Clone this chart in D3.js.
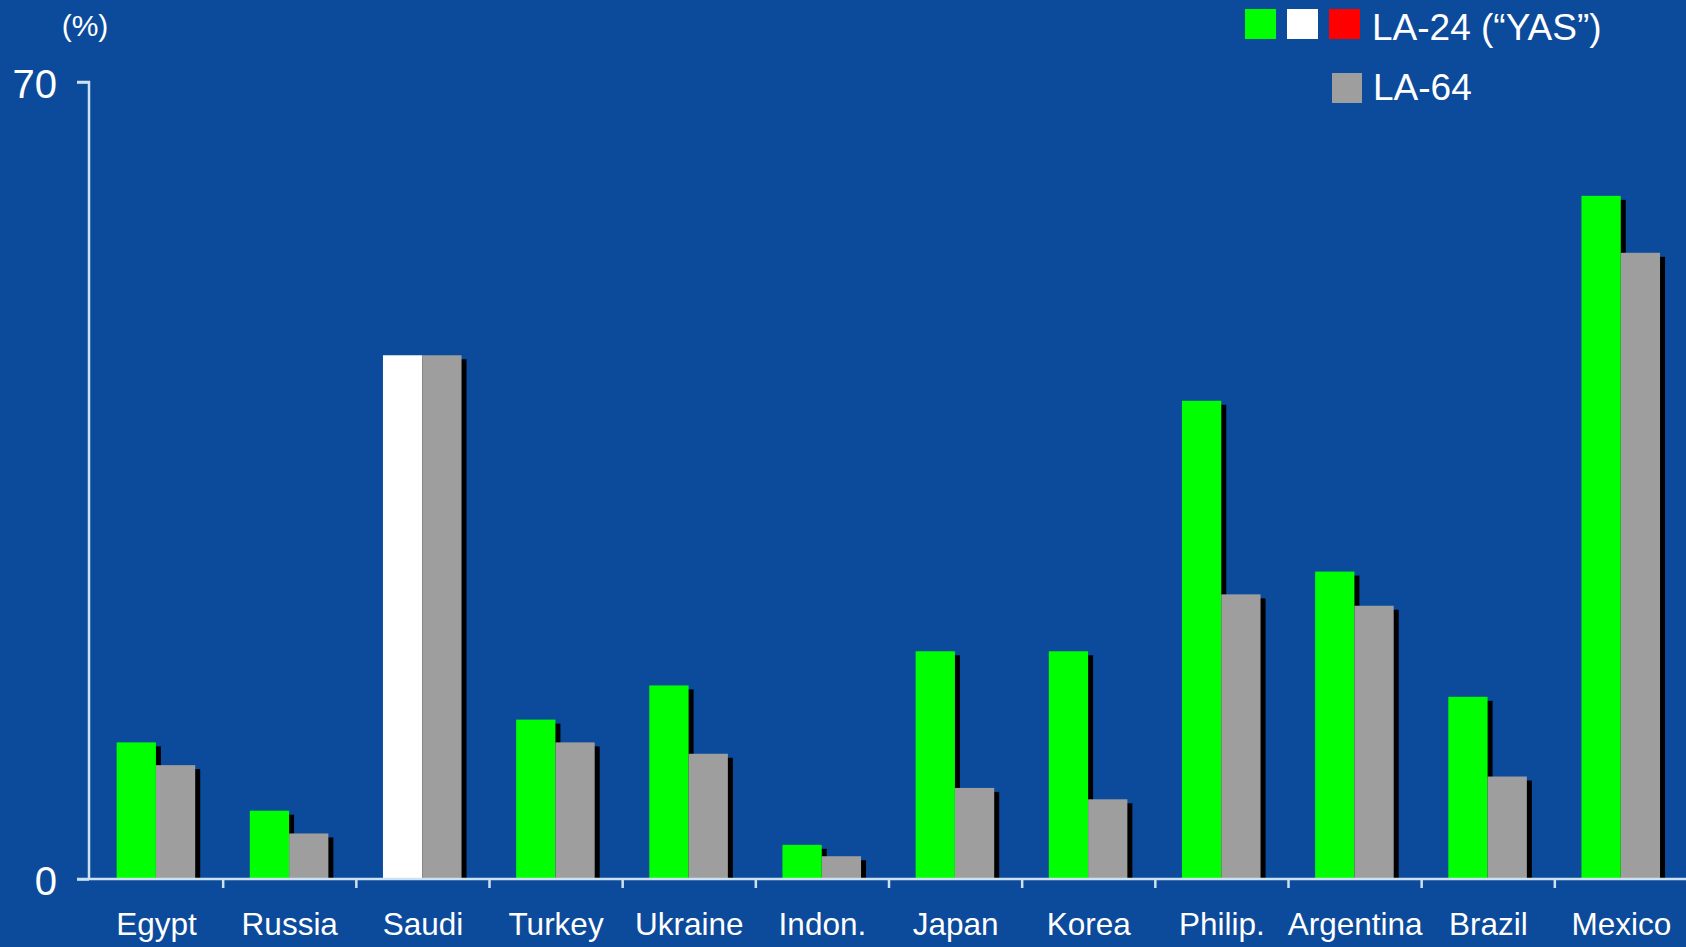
<!DOCTYPE html>
<html>
<head>
<meta charset="utf-8">
<script src="https://cdn.jsdelivr.net/npm/d3@7"></script>
<style>
  html, body { margin: 0; padding: 0; background: #0c4a9b; }
  svg { display: block; }
  text { font-family: "Liberation Sans", Arial, Helvetica, sans-serif; fill: #ffffff; }
</style>
</head>
<body>
<script>
// Share of each country (%), two measures per country
const countries = ["Egypt", "Russia", "Saudi", "Turkey", "Ukraine", "Indon.", "Japan", "Korea", "Philip.", "Argentina", "Brazil", "Mexico"];
const la24 = [12, 6, 46, 14, 17, 3, 20, 20, 42, 27, 16, 60];
const la64 = [10, 4, 46, 12, 11, 2, 8, 7, 25, 24, 9, 55];
// LA-24 bar colour per country (Saudi shown in white)
const la24Colors = ["#00ff00", "#00ff00", "#ffffff", "#00ff00", "#00ff00", "#00ff00", "#00ff00", "#00ff00", "#00ff00", "#00ff00", "#00ff00", "#00ff00"];
const seriesNames = ["LA-24", "LA-64"];
const yTicks = [0, 70];
const legendSwatches = ["#00ff00", "#ffffff", "#ff0000"];

const W = 1686, H = 947;
const BG = "#0c4a9b", AXIS = "#cde2f0", GREY = "#9e9e9e";

const svg = d3.select("body").append("svg").attr("width", W).attr("height", H);
svg.append("rect").attr("width", W).attr("height", H).attr("fill", BG);

const y = d3.scaleLinear().domain([0, 70]).range([879, 82]);
const x0 = d3.scaleBand().domain(countries).range([90, 1688]).padding(0);
const bw = x0.bandwidth();
const x1 = d3.scaleBand().domain(seriesNames).range([bw * 0.2, bw * 0.79]).padding(0);

const rows = countries.map((c, i) => ({ c, i, vals: [
  { s: "LA-24", v: la24[i], color: la24Colors[i] },
  { s: "LA-64", v: la64[i], color: GREY }
]}));

const groups = svg.append("g").selectAll("g").data(rows).join("g")
  .attr("transform", d => `translate(${x0(d.c)},0)`);

// drop shadows behind the bars
const SDX = 5, SDY = 4;
groups.selectAll("rect.shadow").data(d => d.vals).join("rect")
  .attr("class", "shadow")
  .attr("x", d => x1(d.s) + SDX)
  .attr("y", d => y(d.v) + SDY)
  .attr("width", x1.bandwidth())
  .attr("height", d => Math.max(0, y(0) - y(d.v) - SDY))
  .attr("fill", "#000000");

groups.selectAll("rect.bar").data(d => d.vals).join("rect")
  .attr("class", "bar")
  .attr("x", d => x1(d.s))
  .attr("y", d => y(d.v))
  .attr("width", x1.bandwidth())
  .attr("height", d => y(0) - y(d.v))
  .attr("fill", d => d.color);

// y axis
const yAxis = svg.append("g").attr("transform", "translate(89,0)")
  .call(d3.axisLeft(y).tickValues(yTicks).tickSize(12).tickPadding(20).tickFormat(d3.format("d")));
yAxis.select(".domain").attr("stroke", AXIS).attr("stroke-width", 2.5).attr("d", `M-12,${y(70)}H0V${y(0)}`);
yAxis.selectAll(".tick line").attr("stroke", AXIS).attr("stroke-width", 2.5);
yAxis.selectAll(".tick text").attr("fill", "#fff").style("font-size", "40px").attr("dy", "0.38em");

// x axis: baseline, boundary ticks and category labels
const xAxis = svg.append("g").attr("transform", `translate(0,${y(0)})`)
  .call(d3.axisBottom(x0).tickSize(0).tickPadding(34));
xAxis.select(".domain").attr("stroke", AXIS).attr("stroke-width", 2.5).attr("d", `M77,0H${W}`);
xAxis.selectAll(".tick text").attr("fill", "#fff").style("font-size", "31.5px").attr("dy", "0.71em");
xAxis.selectAll("line.sep").data(countries.slice(1)).join("line")
  .attr("class", "sep")
  .attr("x1", d => x0(d)).attr("x2", d => x0(d))
  .attr("y1", 0).attr("y2", 9)
  .attr("stroke", AXIS).attr("stroke-width", 2.5);

// unit label
svg.append("text").attr("x", 85).attr("y", 36).attr("text-anchor", "middle")
  .style("font-size", "30px").text("(%)");

// legend
const leg = svg.append("g");
leg.selectAll("rect.sw").data(legendSwatches).join("rect")
  .attr("class", "sw")
  .attr("x", (d, i) => 1245 + i * 42).attr("y", 9)
  .attr("width", 31).attr("height", 30).attr("fill", d => d);
leg.append("text").attr("x", 1372).attr("y", 40).style("font-size", "37px").text("LA-24 (\u201CYAS\u201D)");
leg.append("rect").attr("x", 1332).attr("y", 73).attr("width", 30).attr("height", 30).attr("fill", GREY);
leg.append("text").attr("x", 1373).attr("y", 100).style("font-size", "37px").text("LA-64");
</script>
</body>
</html>
